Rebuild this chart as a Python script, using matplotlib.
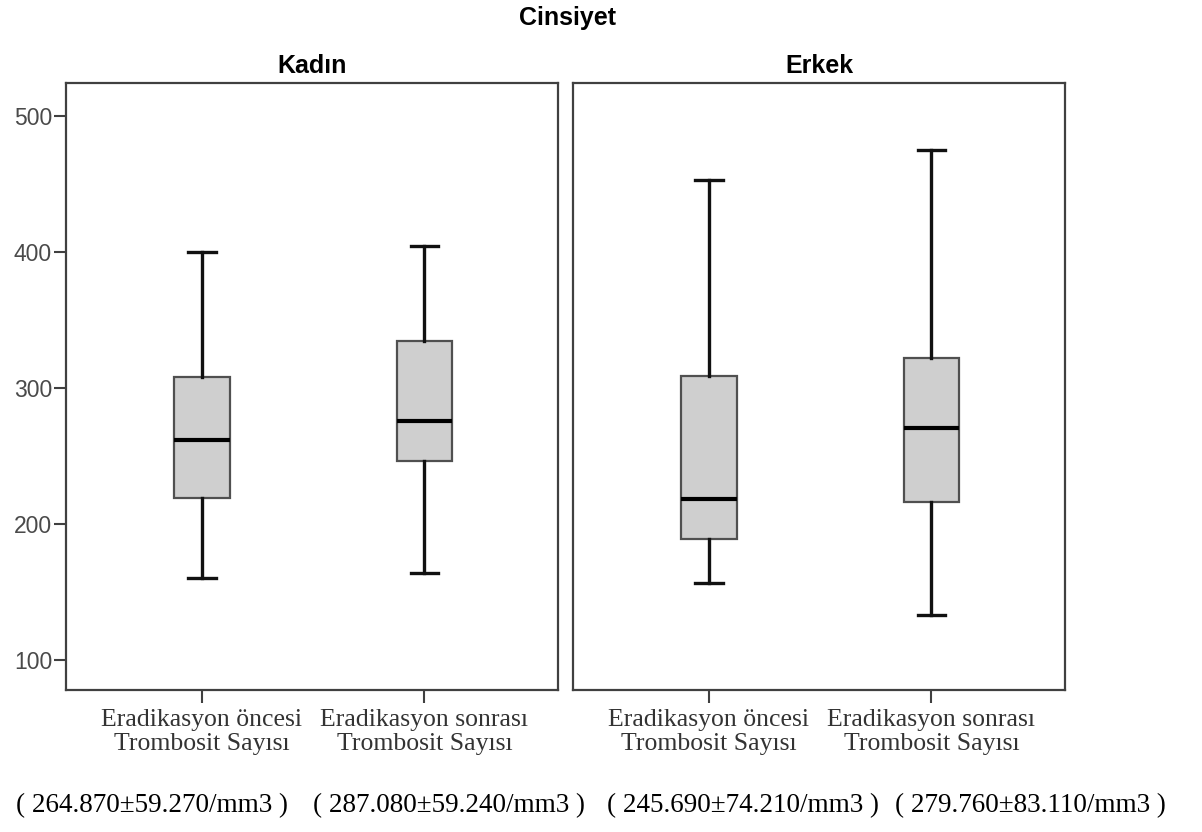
import matplotlib
matplotlib.use("Agg")
import matplotlib.pyplot as plt

# -----------------------------
# Data
# -----------------------------
groups = ["Kadın", "Erkek"]
categories = ["Eradikasyon öncesi\nTrombosit Sayısı", "Eradikasyon sonrası\nTrombosit Sayısı"]

# per group: [before, after]
whis_low = [[160.5, 163.7], [156.5, 133.0]]
q1 = [[219.0, 246.3], [189.0, 216.0]]
median = [[262.0, 275.7], [218.5, 270.8]]
q3 = [[308.0, 334.6], [308.8, 322.3]]
whis_high = [[400.0, 404.0], [452.5, 475.0]]

summary = ["( 264.870±59.270/mm3 )", "( 287.080±59.240/mm3 )",
           "( 245.690±74.210/mm3 )", "( 279.760±83.110/mm3 )"]
summary_x = [152, 449, 743, 1030]

yticks = [100, 200, 300, 400, 500]

W, H = 1202, 832
fig = plt.figure(figsize=(W / 100, H / 100), dpi=100)

panel_left = [66, 573]
panel_w = 492
top, bottom = 83, 690

frame_col = "#404040"

for g, name in enumerate(groups):
    ax = fig.add_axes([panel_left[g] / W, 1 - bottom / H, panel_w / W, (bottom - top) / H])
    stats = []
    for i in range(2):
        stats.append({
            "whislo": whis_low[g][i], "q1": q1[g][i], "med": median[g][i],
            "q3": q3[g][i], "whishi": whis_high[g][i], "fliers": [],
        })
    ax.bxp(stats, positions=[1, 2], widths=0.25, patch_artist=True,
           boxprops=dict(facecolor="#cfcfcf", edgecolor="#505050", linewidth=1.6),
           medianprops=dict(color="black", linewidth=3),
           whiskerprops=dict(color="#111111", linewidth=2.4),
           capprops=dict(color="#111111", linewidth=2.4))
    ax.set_xlim(0.39, 2.6)
    ax.set_ylim(78, 524)
    ax.set_xticks([1, 2])
    ax.set_xticklabels(categories, fontfamily="Liberation Serif", fontsize=18.5,
                       color="#333333", linespacing=1.12)
    ax.tick_params(axis="x", length=9, width=1.5, color=frame_col, pad=5)
    if g == 0:
        ax.set_yticks(yticks)
        ax.set_yticklabels([str(v) for v in yticks], fontfamily="Liberation Sans",
                           fontsize=16.5, color="#4a4a4a")
        ax.tick_params(axis="y", length=9, width=1.5, color=frame_col, pad=1)
    else:
        ax.set_yticks([])
    for s in ax.spines.values():
        s.set_color(frame_col)
        s.set_linewidth(1.6)
    ax.set_title(name, fontfamily="Liberation Sans", fontweight="bold", fontsize=18, pad=7)

fig.text(567 / W, 1 - 18 / H, "Cinsiyet", ha="center", va="center",
         fontfamily="Liberation Sans", fontweight="bold", fontsize=18)

for x, txt in zip(summary_x, summary):
    fig.text(x / W, 1 - 806 / H, txt, ha="center", va="center",
             fontfamily="Liberation Serif", fontsize=19.5, color="black")

fig.savefig("out.png", dpi=100, facecolor="white")
